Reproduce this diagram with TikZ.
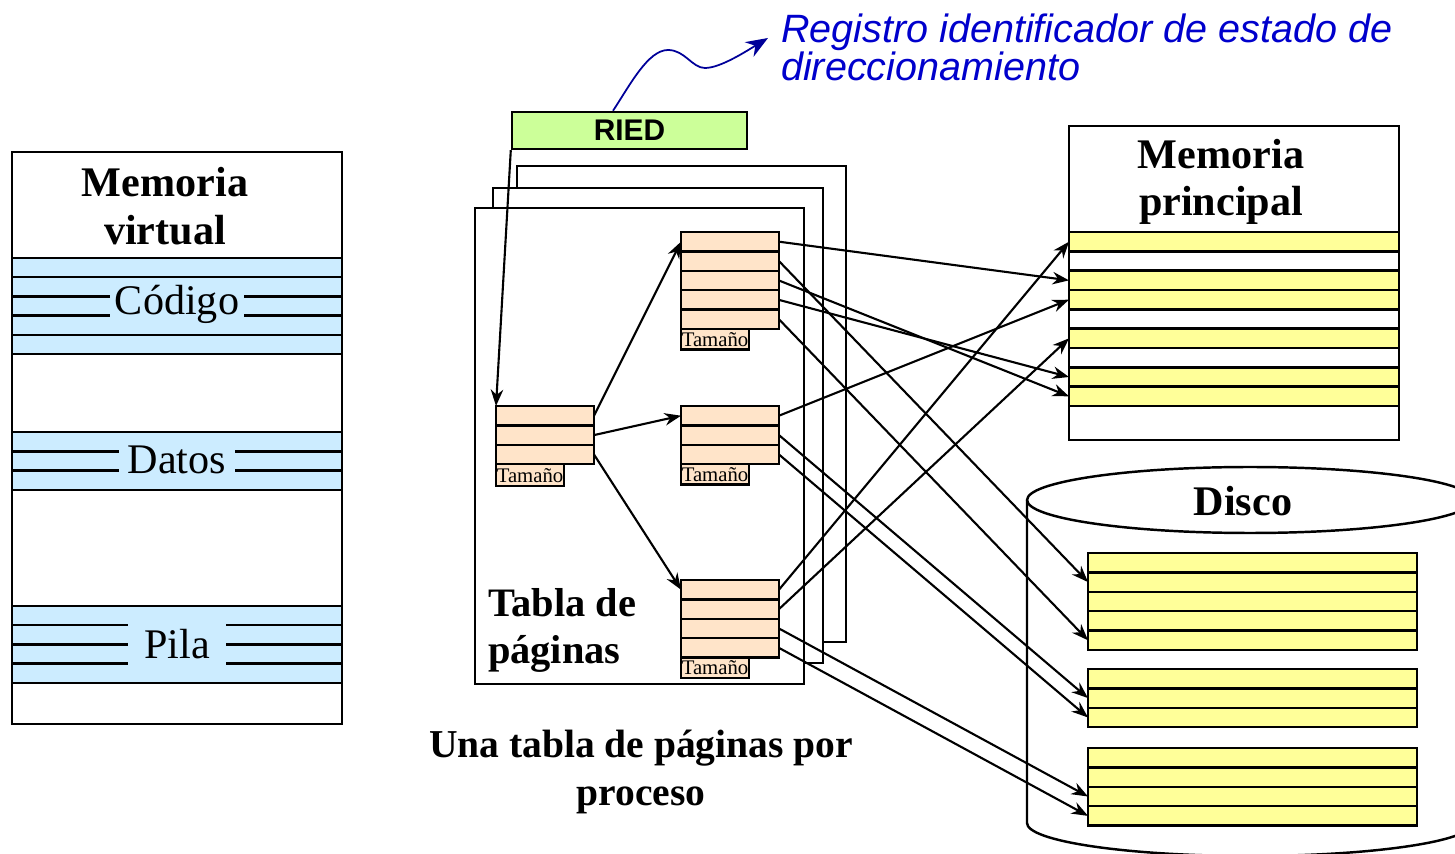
\documentclass[tikz,border=0pt]{standalone}
\usepackage{fontspec}
\setmainfont{Liberation Serif}
\newfontfamily\arialfont{Liberation Sans}
\usetikzlibrary{arrows.meta}
\definecolor{vmblue}{HTML}{CCECFF}
\definecolor{ptpeach}{HTML}{FFE4C9}
\definecolor{memyellow}{HTML}{FFFF99}
\definecolor{riedgreen}{HTML}{CCFF99}
\definecolor{notablue}{HTML}{0000CC}
\definecolor{curvablue}{HTML}{000099}
\tikzset{
  vmrow/.style={draw, fill=vmblue, minimum width=6.6cm, minimum height=0.386cm, inner sep=0pt, outer sep=0pt},
  seglabel/.style={fill=vmblue, inner sep=0pt, font=\fontsize{24}{24}\selectfont},
  ptrow/.style={draw, fill=ptpeach, minimum width=1.96cm, minimum height=0.388cm, inner sep=0pt, outer sep=0pt},
  tamtab/.style={draw, fill=ptpeach, anchor=north west, minimum width=1.36cm, minimum height=0.41cm, inner sep=0pt, outer sep=0pt, font=\fontsize{11.8}{11.8}\selectfont},
  memrow/.style={draw, minimum width=6.6cm, minimum height=0.3866cm, inner sep=0pt, outer sep=0pt},
  diskrow/.style={draw, fill=memyellow, minimum width=6.58cm, minimum height=0.388cm, inner sep=0pt, outer sep=0pt},
  frame/.style={draw, fill=white},
  flecha/.style={line width=1.2pt, -{Stealth[length=3.3mm,width=2.5mm]}},
  bigtitle/.style={font=\fontsize{24}{27}\selectfont\bfseries, align=center},
}
\begin{document}
\begin{tikzpicture}[x=0.02cm, y=-0.02cm, line width=1.4pt]
  \useasboundingbox (0,0) rectangle (1455,854);
  \clip (0,0) rectangle (1455,854);

  \node[draw, minimum width=6.6cm, minimum height=11.44cm, inner sep=0pt] (vm) at (177,438) {};
  \node[bigtitle] (vmtitle) at (165,206) {Memoria\\virtual};
  \foreach \i in {1,...,5}
    \node[vmrow] (cod\i) at (177,{267.6+19.2*(\i-1)}) {};
  \foreach \i in {1,2,3}
    \node[vmrow] (dat\i) at (177,{441.7+19.33*(\i-1)}) {};
  \foreach \i in {1,...,4}
    \node[vmrow] (pil\i) at (177,{615.6+19.25*(\i-1)}) {};
  \node[seglabel, minimum width=2.7cm, minimum height=0.9cm] (codigo) at (177,304) {Código};
  \node[seglabel, minimum width=2.34cm, minimum height=0.95cm] (datos) at (177,460) {Datos};
  \node[seglabel, minimum width=1.96cm, minimum height=1.1cm] (pila) at (177,644) {Pila};

  \draw[frame] (517,166) rectangle (846,642);
  \draw[frame] (493,188) rectangle (823,663);
  \draw[frame] (475,208) rectangle (804,684);
  \node[bigtitle, align=left, anchor=west, font=\fontsize{23}{26.7}\selectfont\bfseries] (tabla) at (481,630) {Tabla de\\páginas};

  \node[draw, fill=riedgreen, minimum width=4.7cm, minimum height=0.74cm, inner sep=0pt,
        font=\arialfont\bfseries\fontsize{17}{17}\selectfont] (ried) at (629.5,130.5) {RIED};
  \node[anchor=north west, inner sep=0pt, align=left, text=notablue,
        font=\arialfont\itshape\fontsize{22.5}{21.5}\selectfont] (nota) at (780,13)
        {Registro identificador de estado de\\direccionamiento};
  \coordinate (notapunta) at (768,38);
  \draw[curvablue, line width=1pt, -{Stealth[length=4.4mm,width=3.4mm]}]
    (613,0 |- ried.north) .. controls (630,85) and (648,50) .. (668,50)
    .. controls (685,50) and (692,68) .. (705,68)
    .. controls (720,68) and (745,52) .. (notapunta);

  \foreach \i in {1,2,3}
    \node[ptrow] (pr\i) at (545,{415.7+19.4*(\i-1)}) {};
  \foreach \i in {1,...,5}
    \node[ptrow] (pA\i) at (730,{241.7+19.4*(\i-1)}) {};
  \foreach \i in {1,2,3}
    \node[ptrow] (pB\i) at (730,{415.7+19.4*(\i-1)}) {};
  \foreach \i in {1,...,4}
    \node[ptrow] (pC\i) at (730,{589.7+19.4*(\i-1)}) {};
  \node[tamtab, minimum height=0.44cm] (tamR) at (pr3.south west) {Tamaño};
  \node[tamtab] (tamA) at (pA5.south west) {Tamaño};
  \node[tamtab] (tamB) at (pB3.south west) {Tamaño};
  \node[tamtab] (tamC) at (pC4.south west) {Tamaño};

  \node[draw, minimum width=6.6cm, minimum height=6.28cm, inner sep=0pt] (mp) at (1234,283) {};
  \node[bigtitle] (mptitle) at (1221,182) {Memoria\\principal};
  \foreach \i/\c in {1/memyellow,2/white,3/memyellow,4/memyellow,5/white,6/memyellow,7/white,8/memyellow,9/memyellow}
    \node[memrow, fill=\c] (m\i) at (1234,{241.7+19.33*(\i-1)}) {};

  \draw (1027,500) -- (1027,823) arc[start angle=180, end angle=360, x radius=4.46cm, y radius=0.66cm] -- (1473,500);
  \draw (1250,500) ellipse [x radius=4.46cm, y radius=0.66cm];
  \node[bigtitle] (disco) at (1243,501) {Disco};
  \foreach \i in {1,...,5}
    \node[diskrow] (dA\i) at (1252.5,{562.7+19.4*(\i-1)}) {};
  \foreach \i in {1,2,3}
    \node[diskrow] (dB\i) at (1252.5,{678.7+19.4*(\i-1)}) {};
  \foreach \i in {1,...,4}
    \node[diskrow] (dC\i) at (1252.5,{757.7+19.4*(\i-1)}) {};

  \node[bigtitle, font=\fontsize{22.5}{27}\selectfont\bfseries] (pie) at (641,772) {Una tabla de páginas por\\proceso};

  \draw[flecha] (ried.south west) -- (pr1.north west);
  \draw[flecha] (pr1.east) -- (pA1.west);
  \draw[flecha] (pr2.east) -- (pB1.west);
  \draw[flecha] (pr3.east) -- (pC1.west);

  \draw[flecha] (pA1.east) -- (m3.west);
  \draw[flecha] (pA2.east) -- (dA2.west);
  \draw[flecha] (pA3.east) -- (m9.west);
  \draw[flecha] (pA4.east) -- (m8.west);
  \draw[flecha] (pA5.east) -- (dA5.west);
  \draw[flecha] (pB1.east) -- (m4.west);
  \draw[flecha] (pB2.east) -- (dB2.west);
  \draw[flecha] (pB3.east) -- (dB3.west);
  \draw[flecha] (pC1.east) -- (m1.west);
  \draw[flecha] (pC2.east) -- (m6.west);
  \draw[flecha] (pC3.east) -- (dC3.west);
  \draw[flecha] (pC4.east) -- (dC4.west);
\end{tikzpicture}
\end{document}
